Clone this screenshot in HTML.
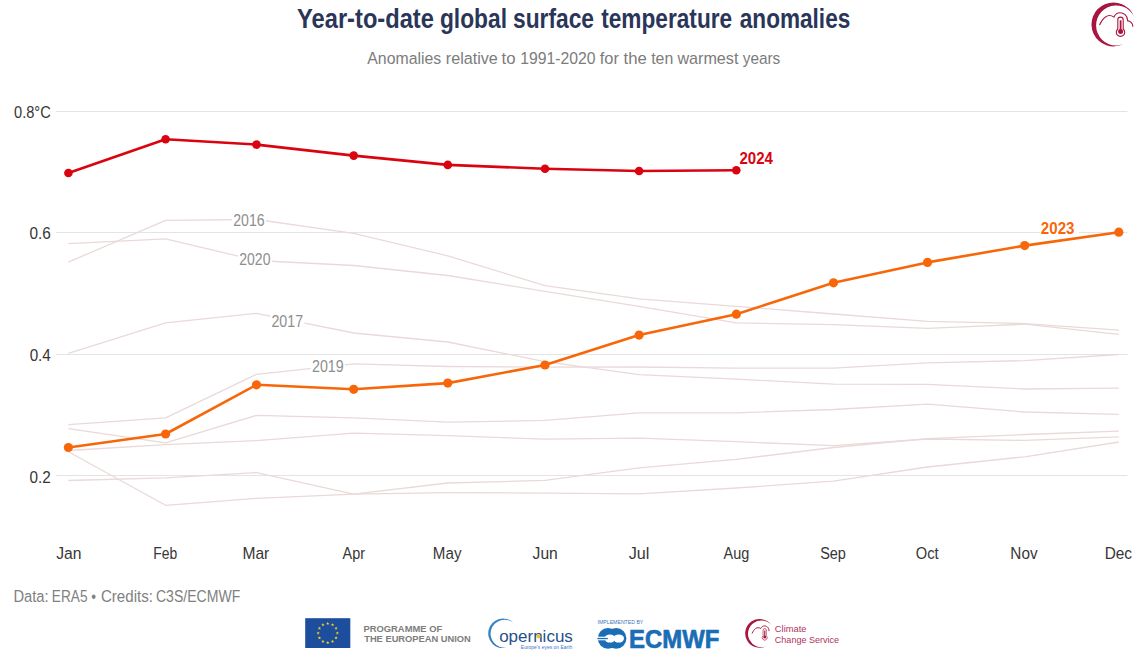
<!DOCTYPE html>
<html><head><meta charset="utf-8"><title>Year-to-date global surface temperature anomalies</title>
<style>
html,body{margin:0;padding:0;background:#fff;width:1145px;height:652px;overflow:hidden}
svg{display:block}
text{font-family:"Liberation Sans", sans-serif}
</style></head><body>
<svg width="1145" height="652" viewBox="0 0 1145 652">
<rect width="1145" height="652" fill="#fff"/>
<line x1="56" y1="111.5" x2="1127.5" y2="111.5" stroke="#e4e4e4" stroke-width="1"/>
<line x1="56" y1="232.5" x2="1127.5" y2="232.5" stroke="#e4e4e4" stroke-width="1"/>
<line x1="56" y1="354.5" x2="1127.5" y2="354.5" stroke="#e4e4e4" stroke-width="1"/>
<line x1="56" y1="475.5" x2="1127.5" y2="475.5" stroke="#e4e4e4" stroke-width="1"/>
<polyline points="68.4,262.1 165.6,220.3 256.5,219.5 353.7,233.3 447.8,255.8 545.0,285.7 639.1,298.8 736.3,306.4 833.5,314.0 927.5,321.4 1024.7,323.6 1118.8,330.2" fill="none" stroke="#ead9d9" stroke-width="1.3" stroke-linejoin="round"/>
<polyline points="68.4,243.6 165.6,238.8 256.5,260.5 353.7,265.5 447.8,275.5 545.0,291.3 639.1,306.4 736.3,322.9 833.5,324.7 927.5,328.3 1024.7,324.2 1118.8,334.4" fill="none" stroke="#ead9d9" stroke-width="1.3" stroke-linejoin="round"/>
<polyline points="68.4,353.3 165.6,322.9 256.5,313.3 353.7,333.0 447.8,342.0 545.0,361.6 639.1,374.6 736.3,379.1 833.5,384.2 927.5,384.3 1024.7,389.0 1118.8,388.2" fill="none" stroke="#ead9d9" stroke-width="1.3" stroke-linejoin="round"/>
<polyline points="68.4,424.6 165.6,417.9 256.5,374.3 353.7,363.9 447.8,366.5 545.0,367.2 639.1,367.0 736.3,368.2 833.5,368.2 927.5,362.8 1024.7,360.6 1118.8,354.5" fill="none" stroke="#ead9d9" stroke-width="1.3" stroke-linejoin="round"/>
<polyline points="68.4,428.7 165.6,442.8 256.5,415.3 353.7,417.9 447.8,422.2 545.0,420.4 639.1,412.8 736.3,412.8 833.5,409.5 927.5,404.1 1024.7,412.0 1118.8,414.3" fill="none" stroke="#ead9d9" stroke-width="1.3" stroke-linejoin="round"/>
<polyline points="68.4,450.5 165.6,444.6 256.5,440.7 353.7,433.1 447.8,435.6 545.0,439.2 639.1,438.1 736.3,441.7 833.5,445.7 927.5,439.0 1024.7,440.4 1118.8,436.8" fill="none" stroke="#ead9d9" stroke-width="1.3" stroke-linejoin="round"/>
<polyline points="68.4,451.8 165.6,505.3 256.5,498.3 353.7,494.1 447.8,492.7 545.0,493.1 639.1,493.9 736.3,488.0 833.5,481.2 927.5,467.0 1024.7,456.8 1118.8,442.0" fill="none" stroke="#ead9d9" stroke-width="1.3" stroke-linejoin="round"/>
<polyline points="68.4,480.5 165.6,477.9 256.5,472.6 353.7,494.1 447.8,483.0 545.0,480.4 639.1,467.8 736.3,459.4 833.5,447.5 927.5,438.6 1024.7,434.5 1118.8,431.1" fill="none" stroke="#ead9d9" stroke-width="1.3" stroke-linejoin="round"/>
<text transform="translate(297.07,27.70) scale(0.8678,1)" font-size="27.3" font-weight="bold" fill="#2a3659">Year-to-date</text>
<text transform="translate(439.96,27.70) scale(0.8337,1)" font-size="27.3" font-weight="bold" fill="#2a3659">global</text>
<text transform="translate(512.97,27.70) scale(0.8346,1)" font-size="27.3" font-weight="bold" fill="#2a3659">surface</text>
<text transform="translate(601.19,27.70) scale(0.8307,1)" font-size="27.3" font-weight="bold" fill="#2a3659">temperature</text>
<text transform="translate(739.78,27.70) scale(0.8281,1)" font-size="27.3" font-weight="bold" fill="#2a3659">anomalies</text>
<text transform="translate(367.30,63.80) scale(0.9321,1)" font-size="17" font-weight="normal" fill="#7c7c7c">Anomalies</text>
<text transform="translate(445.81,63.80) scale(0.9498,1)" font-size="17" font-weight="normal" fill="#7c7c7c">relative</text>
<text transform="translate(501.55,63.80) scale(0.9887,1)" font-size="17" font-weight="normal" fill="#7c7c7c">to</text>
<text transform="translate(520.24,63.80) scale(0.9262,1)" font-size="17" font-weight="normal" fill="#7c7c7c">1991-2020</text>
<text transform="translate(599.76,63.80) scale(0.9662,1)" font-size="17" font-weight="normal" fill="#7c7c7c">for</text>
<text transform="translate(623.55,63.80) scale(0.9846,1)" font-size="17" font-weight="normal" fill="#7c7c7c">the</text>
<text transform="translate(651.17,63.80) scale(0.9348,1)" font-size="17" font-weight="normal" fill="#7c7c7c">ten</text>
<text transform="translate(677.40,63.80) scale(0.9500,1)" font-size="17" font-weight="normal" fill="#7c7c7c">warmest</text>
<text transform="translate(742.70,63.80) scale(0.9049,1)" font-size="17" font-weight="normal" fill="#7c7c7c">years</text>
<text transform="translate(14.05,118.00) scale(0.8606,1)" font-size="17" font-weight="normal" fill="#363636">0.8°C</text>
<text transform="translate(29.42,238.80) scale(0.9034,1)" font-size="17" font-weight="normal" fill="#363636">0.6</text>
<text transform="translate(29.63,360.90) scale(0.8978,1)" font-size="17" font-weight="normal" fill="#363636">0.4</text>
<text transform="translate(29.62,482.90) scale(0.9000,1)" font-size="17" font-weight="normal" fill="#363636">0.2</text>
<text transform="translate(56.27,559.00) scale(0.9231,1)" font-size="17" font-weight="normal" fill="#363636">Jan</text>
<text transform="translate(153.37,559.00) scale(0.8185,1)" font-size="17" font-weight="normal" fill="#363636">Feb</text>
<text transform="translate(242.43,559.00) scale(0.9164,1)" font-size="17" font-weight="normal" fill="#363636">Mar</text>
<text transform="translate(342.50,559.00) scale(0.8495,1)" font-size="17" font-weight="normal" fill="#363636">Apr</text>
<text transform="translate(432.86,559.00) scale(0.8918,1)" font-size="17" font-weight="normal" fill="#363636">May</text>
<text transform="translate(532.57,559.00) scale(0.9192,1)" font-size="17" font-weight="normal" fill="#363636">Jun</text>
<text transform="translate(628.76,559.00) scale(0.9531,1)" font-size="17" font-weight="normal" fill="#363636">Jul</text>
<text transform="translate(723.60,559.00) scale(0.8513,1)" font-size="17" font-weight="normal" fill="#363636">Aug</text>
<text transform="translate(820.16,559.00) scale(0.8522,1)" font-size="17" font-weight="normal" fill="#363636">Sep</text>
<text transform="translate(915.75,559.00) scale(0.8627,1)" font-size="17" font-weight="normal" fill="#363636">Oct</text>
<text transform="translate(1010.35,559.00) scale(0.9009,1)" font-size="17" font-weight="normal" fill="#363636">Nov</text>
<text transform="translate(1104.64,559.00) scale(0.9062,1)" font-size="17" font-weight="normal" fill="#363636">Dec</text>
<text transform="translate(13.40,601.80) scale(0.8667,1)" font-size="17" font-weight="normal" fill="#808080">Data:</text>
<text transform="translate(51.79,601.80) scale(0.8047,1)" font-size="17" font-weight="normal" fill="#808080">ERA5</text>
<text transform="translate(91.20,601.80) scale(0.8000,1)" font-size="17" font-weight="normal" fill="#808080">•</text>
<text transform="translate(100.93,601.80) scale(0.8889,1)" font-size="17" font-weight="normal" fill="#808080">Credits:</text>
<text transform="translate(155.98,601.80) scale(0.8269,1)" font-size="17" font-weight="normal" fill="#808080">C3S/ECMWF</text>
<rect x="231.9" y="210.9" width="34.1" height="18.0" fill="#fff"/>
<text transform="translate(233.28,225.70) scale(0.8303,1)" font-size="17" font-weight="normal" fill="#8e8e8e">2016</text>
<rect x="237.9" y="249.9" width="34.1" height="18.0" fill="#fff"/>
<text transform="translate(239.28,264.60) scale(0.8247,1)" font-size="17" font-weight="normal" fill="#8e8e8e">2020</text>
<rect x="270.1" y="311.9" width="34.3" height="18.0" fill="#fff"/>
<text transform="translate(271.47,326.70) scale(0.8359,1)" font-size="17" font-weight="normal" fill="#8e8e8e">2017</text>
<rect x="310.6" y="357.4" width="34.4" height="18.0" fill="#fff"/>
<text transform="translate(311.97,372.20) scale(0.8386,1)" font-size="17" font-weight="normal" fill="#8e8e8e">2019</text>
<text transform="translate(363.47,631.50) scale(0.9786,1)" font-size="9.6" font-weight="bold" fill="#7d7d7d">PROGRAMME OF</text>
<text transform="translate(364.20,642.20) scale(0.9712,1)" font-size="9.6" font-weight="bold" fill="#7d7d7d">THE EUROPEAN UNION</text>
<text transform="translate(499.17,642.40) scale(0.9770,1)" font-size="17.4" font-weight="normal" fill="#27508a">opernicus</text>
<text transform="translate(520.86,648.60) scale(0.8891,1)" font-size="5.6" font-weight="normal" fill="#3d79bf">Europe's eyes on Earth</text>
<text transform="translate(597.58,623.60) scale(0.8370,1)" font-size="6.2" font-weight="normal" fill="#3a74b8">IMPLEMENTED BY</text>
<text transform="translate(629.12,647.60) scale(0.9340,1)" font-size="25.6" font-weight="bold" fill="#1b6db5" stroke="#1b6db5" stroke-width="0.7" stroke-linejoin="round">ECMWF</text>
<text transform="translate(774.81,631.80) scale(0.9746,1)" font-size="9.6" font-weight="normal" fill="#b0335d">Climate</text>
<text transform="translate(774.83,643.40) scale(0.9413,1)" font-size="9.6" font-weight="normal" fill="#b0335d">Change Service</text>
<polyline points="68.4,447.5 165.6,434.0 256.5,384.8 353.7,389.3 447.8,383.1 545.0,365.0 639.1,335.1 736.3,314.2 833.5,282.8 927.5,262.4 1024.7,245.6 1118.8,232.2" fill="none" stroke="#f7670a" stroke-width="2.6" stroke-linejoin="round"/>
<circle cx="68.4" cy="447.5" r="4.6" fill="#f7670a"/>
<circle cx="165.6" cy="434" r="4.6" fill="#f7670a"/>
<circle cx="256.5" cy="384.8" r="4.6" fill="#f7670a"/>
<circle cx="353.7" cy="389.3" r="4.6" fill="#f7670a"/>
<circle cx="447.8" cy="383.1" r="4.6" fill="#f7670a"/>
<circle cx="545.0" cy="365" r="4.6" fill="#f7670a"/>
<circle cx="639.1" cy="335.1" r="4.6" fill="#f7670a"/>
<circle cx="736.3" cy="314.2" r="4.6" fill="#f7670a"/>
<circle cx="833.5" cy="282.8" r="4.6" fill="#f7670a"/>
<circle cx="927.5" cy="262.4" r="4.6" fill="#f7670a"/>
<circle cx="1024.7" cy="245.6" r="4.6" fill="#f7670a"/>
<circle cx="1118.8" cy="232.2" r="4.6" fill="#f7670a"/>
<polyline points="68.4,173.0 165.6,139.2 256.5,144.6 353.7,155.6 447.8,164.9 545.0,168.8 639.1,171.0 736.3,170.3" fill="none" stroke="#d9040f" stroke-width="2.6" stroke-linejoin="round"/>
<circle cx="68.4" cy="173" r="4.3" fill="#d9040f"/>
<circle cx="165.6" cy="139.2" r="4.3" fill="#d9040f"/>
<circle cx="256.5" cy="144.6" r="4.3" fill="#d9040f"/>
<circle cx="353.7" cy="155.6" r="4.3" fill="#d9040f"/>
<circle cx="447.8" cy="164.9" r="4.3" fill="#d9040f"/>
<circle cx="545.0" cy="168.8" r="4.3" fill="#d9040f"/>
<circle cx="639.1" cy="171" r="4.3" fill="#d9040f"/>
<circle cx="736.3" cy="170.3" r="4.3" fill="#d9040f"/>
<text transform="translate(739.45,163.80) scale(0.8980,1)" font-size="16.8" font-weight="bold" fill="#d9040f">2024</text>
<rect x="1040" y="219" width="39" height="17" fill="#fff"/>
<text transform="translate(1040.85,233.80) scale(0.8993,1)" font-size="16.8" font-weight="bold" fill="#f7670a">2023</text>
<path d="M1134.04,16.52 A22,22 0 1 0 1123.49,44.00 A20.01,20.01 0 1 1 1134.04,16.52 Z" fill="#a8163f"/>
<path d="M1099.7,24.7 C1101,22 1103,18.5 1105.5,17 C1107.5,15.5 1111,15 1113.9,17.1 C1115,14.5 1117.5,12.7 1120,12.7 C1123.5,12.7 1127.5,15 1127.8,20.8 C1130,20.8 1132.8,23 1132.8,26.2" fill="none" stroke="#a8163f" stroke-width="1.15" stroke-linecap="round"/>
<path d="M1117.8,29 V19.8 A2.7,2.7 0 0 1 1123.2,19.8 V29 A4.2,4.2 0 1 1 1117.8,29 Z" fill="#fff" stroke="#a8163f" stroke-width="1.1"/>
<rect x="1119.7" y="20.3" width="1.8" height="10" fill="#a8163f"/>
<circle cx="1120.6" cy="31.4" r="2.5" fill="#a8163f"/>
<path d="M770.95,624.53 A14.4,14.4 0 1 0 765.46,646.56 A13.36,13.36 0 1 1 770.95,624.53 Z" fill="#a8163f"/>
<g transform="translate(92.400,618.280) scale(0.6)"><path d="M1099.7,24.7 C1101,22 1103,18.5 1105.5,17 C1107.5,15.5 1111,15 1113.9,17.1 C1115,14.5 1117.5,12.7 1120,12.7 C1123.5,12.7 1127.5,15 1127.8,20.8" fill="none" stroke="#a8163f" stroke-width="1.6" stroke-linecap="round"/>
<path d="M1117.8,29 V19.8 A2.7,2.7 0 0 1 1123.2,19.8 V29 A4.2,4.2 0 1 1 1117.8,29 Z" fill="#fff" stroke="#a8163f" stroke-width="1.1"/>
<rect x="1119.7" y="20.3" width="1.8" height="10" fill="#a8163f"/>
<circle cx="1120.6" cy="31.4" r="2.5" fill="#a8163f"/></g>
<rect x="305.2" y="618.2" width="45.1" height="29.8" fill="#1d4e9e"/>
<polygon points="327.75,621.80 328.19,622.89 329.37,622.97 328.46,623.73 328.75,624.88 327.75,624.25 326.75,624.88 327.04,623.73 326.13,622.97 327.31,622.89" fill="#f4d517"/>
<polygon points="332.55,623.09 332.99,624.18 334.17,624.26 333.26,625.02 333.55,626.16 332.55,625.54 331.55,626.16 331.84,625.02 330.93,624.26 332.11,624.18" fill="#f4d517"/>
<polygon points="336.06,626.60 336.50,627.69 337.68,627.77 336.78,628.53 337.06,629.68 336.06,629.05 335.06,629.68 335.35,628.53 334.45,627.77 335.62,627.69" fill="#f4d517"/>
<polygon points="337.35,631.40 337.79,632.49 338.97,632.57 338.06,633.33 338.35,634.48 337.35,633.85 336.35,634.48 336.64,633.33 335.73,632.57 336.91,632.49" fill="#f4d517"/>
<polygon points="336.06,636.20 336.50,637.29 337.68,637.37 336.78,638.13 337.06,639.28 336.06,638.65 335.06,639.28 335.35,638.13 334.45,637.37 335.62,637.29" fill="#f4d517"/>
<polygon points="332.55,639.71 332.99,640.81 334.17,640.89 333.26,641.65 333.55,642.79 332.55,642.16 331.55,642.79 331.84,641.65 330.93,640.89 332.11,640.81" fill="#f4d517"/>
<polygon points="327.75,641.00 328.19,642.09 329.37,642.17 328.46,642.93 328.75,644.08 327.75,643.45 326.75,644.08 327.04,642.93 326.13,642.17 327.31,642.09" fill="#f4d517"/>
<polygon points="322.95,639.71 323.39,640.81 324.57,640.89 323.66,641.65 323.95,642.79 322.95,642.16 321.95,642.79 322.24,641.65 321.33,640.89 322.51,640.81" fill="#f4d517"/>
<polygon points="319.44,636.20 319.88,637.29 321.05,637.37 320.15,638.13 320.44,639.28 319.44,638.65 318.44,639.28 318.72,638.13 317.82,637.37 319.00,637.29" fill="#f4d517"/>
<polygon points="318.15,631.40 318.59,632.49 319.77,632.57 318.86,633.33 319.15,634.48 318.15,633.85 317.15,634.48 317.44,633.33 316.53,632.57 317.71,632.49" fill="#f4d517"/>
<polygon points="319.44,626.60 319.88,627.69 321.05,627.77 320.15,628.53 320.44,629.68 319.44,629.05 318.44,629.68 318.72,628.53 317.82,627.77 319.00,627.69" fill="#f4d517"/>
<polygon points="322.95,623.09 323.39,624.18 324.57,624.26 323.66,625.02 323.95,626.16 322.95,625.54 321.95,626.16 322.24,625.02 321.33,624.26 322.51,624.18" fill="#f4d517"/>
<defs><linearGradient id="cg" x1="0" y1="0" x2="1" y2="1"><stop offset="0" stop-color="#3f8fd2"/><stop offset="1" stop-color="#1f5fa8"/></linearGradient></defs>
<path d="M513.28,622.65 A14.8,14.8 0 1 0 506.08,647.78 A14.07,14.07 0 1 1 513.28,622.65 Z" fill="url(#cg)"/>
<ellipse cx="608" cy="638.4" rx="10.2" ry="10.3" fill="#1b6db5"/><ellipse cx="616.2" cy="638.4" rx="10.2" ry="10.3" fill="#1b6db5"/>
<ellipse cx="609.9" cy="638.5" rx="5.3" ry="4.1" fill="#fff"/><ellipse cx="618.7" cy="638.5" rx="5.3" ry="4.1" fill="#fff"/>
<rect x="596" y="636.7" width="9" height="3.6" fill="#fff"/><rect x="597.4" y="637.9" width="10.4" height="1.3" fill="#1b6db5"/>
<circle cx="538.6" cy="636.4" r="2.0" fill="#f3c21b"/>
</svg></body></html>
